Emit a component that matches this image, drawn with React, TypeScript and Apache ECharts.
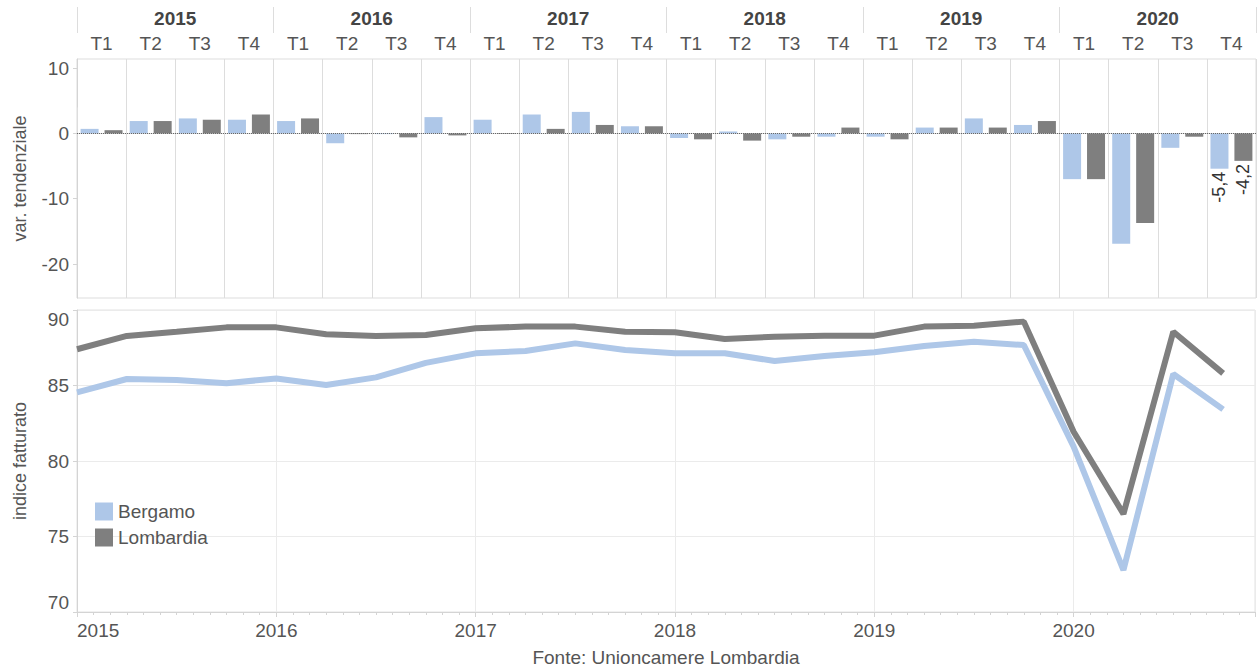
import React, { useEffect, useRef } from "react";
import * as echarts from "echarts";

const years = ["2015", "2016", "2017", "2018", "2019", "2020"];
const quarterNames = ["T1", "T2", "T3", "T4"];
const quarters = years.flatMap(() => quarterNames);

// var. tendenziale (bars)
const bergamoVar = [
  0.7, 1.9, 2.3, 2.1,
  1.9, -1.5, -0.1, 2.5,
  2.1, 2.9, 3.3, 1.1,
  -0.7, 0.3, -0.9, -0.5,
  -0.5, 0.9, 2.3, 1.3,
  -7.0, -16.9, -2.2, -5.4,
];
const lombardiaVar = [
  0.5, 1.9, 2.1, 2.9,
  2.3, -0.1, -0.6, -0.3,
  -0.1, 0.7, 1.3, 1.1,
  -0.9, -1.1, -0.5, 0.9,
  -0.9, 0.9, 0.9, 1.9,
  -7.0, -13.7, -0.5, -4.2,
];

// indice fatturato (lines)
const bergamoIdx = [
  84.55, 85.43, 85.36, 85.15,
  85.47, 85.03, 85.54, 86.5,
  87.13, 87.28, 87.79, 87.35,
  87.13, 87.13, 86.62, 86.95,
  87.2, 87.62, 87.9, 87.68,
  80.95, 72.78, 85.76, 83.42,
];
const lombardiaIdx = [
  87.4, 88.28, 88.56, 88.85,
  88.85, 88.4, 88.28, 88.34,
  88.79, 88.9, 88.9, 88.56,
  88.52, 88.08, 88.23, 88.3,
  88.3, 88.9, 88.96, 89.23,
  81.94, 76.5, 88.56, 85.8,
];

const BLUE = "#aec7e8";
const GREY = "#7f7f7f";
const FONT = "'Liberation Sans', Arial, sans-serif";
const TXT = "#555555";

export default function App() {
  const ref = useRef<HTMLDivElement>(null);
  useEffect(() => {
    if (!ref.current) return;
    const chart = echarts.init(ref.current, null, { renderer: "svg" });
    const last = quarters.length - 1;
    const barData = (arr: number[]) =>
      arr.map((v, i) =>
        i === last
          ? {
              value: v,
              label: {
                show: true,
                position: "bottom",
                rotate: 90,
                align: "right",
                verticalAlign: "middle",
                distance: 3,
                fontSize: 18,
                fontFamily: FONT,
                color: "#333",
                formatter: (p: any) => String(p.value).replace(".", ","),
              },
            }
          : v
      );
    const lineData = (arr: number[]) => arr.map((v, i) => [2015 + i * 0.25, v]);

    chart.setOption({
      animation: false,
      textStyle: { fontFamily: FONT },
      grid: [
        { left: 77, right: 2, top: 59, height: 239, show: true, borderColor: "#dddddd", borderWidth: 1 },
        { left: 77, right: 2, top: 310, height: 302, show: true, borderColor: "#e3e3e3", borderWidth: 1 },
      ],
      legend: {
        data: ["Bergamo", "Lombardia"],
        orient: "vertical",
        left: 90,
        top: 497,
        icon: "rect",
        itemWidth: 18,
        itemHeight: 18,
        itemGap: 7,
        textStyle: { fontSize: 19, color: TXT, fontFamily: FONT },
      },
      xAxis: [
        {
          type: "category",
          gridIndex: 0,
          position: "top",
          data: quarters,
          axisLine: { show: true, lineStyle: { color: "#dddddd" } },
          axisTick: { show: true, interval: 0, length: 26, lineStyle: { color: "#dddddd" } },
          axisLabel: { interval: 0, margin: 6, fontSize: 19, color: TXT, fontFamily: FONT },
          splitLine: { show: true, interval: 0, lineStyle: { color: "#dddddd" } },
        },
        {
          type: "category",
          gridIndex: 0,
          position: "top",
          offset: 26,
          data: years,
          axisLine: { show: false },
          axisTick: { show: true, interval: 0, length: 26, lineStyle: { color: "#dddddd" } },
          axisLabel: { interval: 0, margin: 5, fontSize: 19, fontWeight: "bold", color: "#444", fontFamily: FONT },
          splitLine: { show: false },
        },
        {
          type: "value",
          gridIndex: 1,
          min: 2015,
          max: 2020.91,
          interval: 1,
          axisLine: { show: true, lineStyle: { color: "#d4d4d4" } },
          axisTick: { show: true, length: 5, lineStyle: { color: "#d4d4d4" } },
          minorTick: { show: true, splitNumber: 12, length: 3, lineStyle: { color: "#d4d4d4" } },
          axisLabel: {
            fontSize: 19,
            color: TXT,
            fontFamily: FONT,
            margin: 9,
            alignMinLabel: "left",
            formatter: (v: number) => (Number.isInteger(v) ? String(v) : ""),
          },
          splitLine: { show: true, lineStyle: { color: "#ebebeb" } },
          name: "Fonte: Unioncamere Lombardia",
          nameLocation: "middle",
          nameGap: 36,
          nameTextStyle: { fontSize: 19, color: TXT, fontFamily: FONT },
        },
      ],
      yAxis: [
        {
          type: "value",
          gridIndex: 0,
          min: -25.2,
          max: 11.4,
          axisLine: { show: true, lineStyle: { color: "#d4d4d4" } },
          axisTick: { show: true, length: 4, customValues: [-20, -10, 0, 10], lineStyle: { color: "#d4d4d4" } },
          axisLabel: { customValues: [-20, -10, 0, 10], fontSize: 19, color: TXT, fontFamily: FONT, margin: 8 },
          splitLine: { show: false },
          name: "var. tendenziale",
          nameLocation: "middle",
          nameGap: 48,
          nameTextStyle: { fontSize: 18, color: TXT, fontFamily: FONT },
        },
        {
          type: "value",
          gridIndex: 1,
          min: 70,
          max: 90,
          interval: 5,
          axisLine: { show: true, lineStyle: { color: "#d4d4d4" } },
          axisTick: { show: true, length: 4, lineStyle: { color: "#d4d4d4" } },
          axisLabel: {
            fontSize: 19,
            color: TXT,
            fontFamily: FONT,
            margin: 8,
            verticalAlignMaxLabel: "top",
            verticalAlignMinLabel: "bottom",
          },
          splitLine: { show: true, lineStyle: { color: "#ebebeb" } },
          name: "indice fatturato",
          nameLocation: "middle",
          nameGap: 48,
          nameTextStyle: { fontSize: 18, color: TXT, fontFamily: FONT },
        },
      ],
      series: [
        {
          name: "Bergamo",
          type: "bar",
          xAxisIndex: 0,
          yAxisIndex: 0,
          data: barData(bergamoVar),
          barWidth: 18,
          barGap: "33%",
          itemStyle: { color: BLUE },
          markLine: {
            silent: true,
            symbol: "none",
            label: { show: false },
            lineStyle: { type: "dotted", color: "#666", width: 1 },
            data: [{ yAxis: 0 }],
          },
        },
        {
          name: "Lombardia",
          type: "bar",
          xAxisIndex: 0,
          yAxisIndex: 0,
          data: barData(lombardiaVar),
          barWidth: 18,
          barGap: "33%",
          itemStyle: { color: GREY },
        },
        {
          name: "Bergamo",
          type: "line",
          xAxisIndex: 2,
          yAxisIndex: 1,
          data: lineData(bergamoIdx),
          symbol: "none",
          lineStyle: { color: BLUE, width: 6 },
          itemStyle: { color: BLUE },
        },
        {
          name: "Lombardia",
          type: "line",
          xAxisIndex: 2,
          yAxisIndex: 1,
          data: lineData(lombardiaIdx),
          symbol: "none",
          lineStyle: { color: GREY, width: 6 },
          itemStyle: { color: GREY },
        },
      ],
    });
    return () => chart.dispose();
  }, []);
  return <div ref={ref} style={{ width: 1258, height: 670, position: "absolute", left: 0, top: 0 }} />;
}
